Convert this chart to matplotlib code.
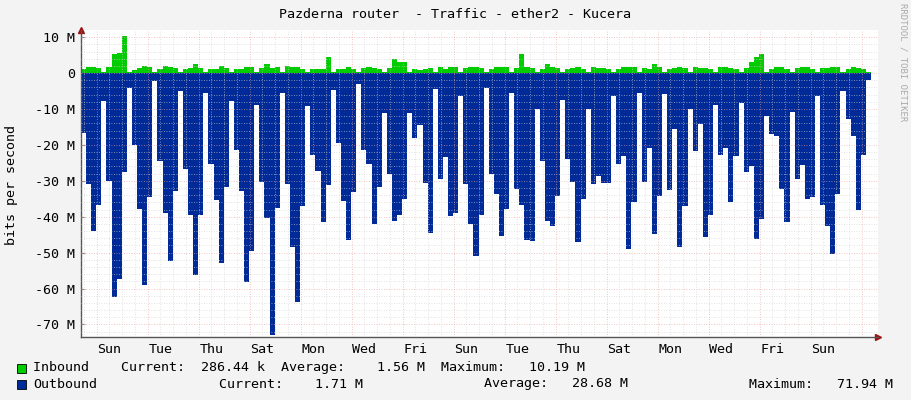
import numpy as np
import matplotlib.pyplot as plt
from matplotlib.ticker import MultipleLocator, FuncFormatter

# outbound traffic [Mbit/s], one value per step
outbound = [16.7, 31, 44, 36.8, 7.7, 30, 62.3, 57.4, 27.6, 4.2, 20, 37.8, 59, 34.5, 2.1,
            24.4, 39, 52.3, 32.9, 4.9, 26.6, 39.4, 56.2, 39.5, 5.6, 25.3, 35.3, 52.9, 31.8, 7.9,
            21.3, 32.9, 58.1, 49.5, 8.8, 30.4, 40.3, 73, 37.7, 5.6, 31, 48.4, 63.7, 36.9, 9.1,
            22.9, 27.3, 41.5, 31.3, 4.6, 19.4, 35.6, 46.5, 33,
            3.1, 21.3, 25.3, 41.9, 31.8, 11.1, 28, 41.2, 39.4, 35.2, 11.1, 18.2, 14.4, 30.7, 44.6,
            4.4, 29.4, 23.3, 39.8, 39, 6.5, 31, 42.1, 50.9, 39.5, 4.2, 28, 33.8, 45.4, 37.8,
            5.6, 32.2, 36.6, 46.6, 46.8, 9.9, 24.4, 41.2, 42.6, 34.1, 7.4, 23.9, 30.4, 47, 35,
            9.9, 31, 28.7, 30.6, 30.7, 6.5, 25.2, 23.1,
            48.9, 35.9, 5.6, 30.4, 21, 44.9, 34.1, 5.7, 32.6, 15.5, 48.4, 36.9, 9.9, 21.6, 14.2,
            45.7, 39.4, 8.8, 22.9, 21, 35.9, 23, 8.3, 27.6, 25.9, 46.1, 40.6, 11.9, 16.9, 17.4,
            32.2, 41.5, 10.8, 29.5, 25.7, 35, 34.5, 6.5, 36.6, 42.6, 50.3, 33.8, 4.9, 12.7, 17.6,
            38.1, 22.9, 1.9]

inbound = [1.2, 1.6, 1.8, 1.3, 0.4, 1.8, 5.4, 5.6, 10.4, 0.3, 0.8, 1.5, 2.1, 1.6, 0.3,
           1.2, 2.0, 1.8, 1.3, 0.3, 1.0, 1.5, 2.4, 1.5, 0.4, 1.0, 1.2, 2.0, 1.4, 0.4,
           1.0, 1.2, 1.8, 1.6, 0.4, 1.4, 2.4, 1.3, 1.8, 0.3, 2.0, 1.7, 1.8, 1.2, 0.4,
           1.2, 1.2, 1.2, 4.6, 0.3, 1.1, 1.2, 1.6, 1.2,
           0.4, 1.3, 1.6, 1.5, 1.1, 0.4, 1.3, 4.0, 3.2, 3.2, 0.4, 1.2, 0.8, 1.1, 1.4,
           0.4, 1.6, 1.0, 1.7, 1.7, 0.4, 1.5, 1.7, 1.7, 1.3, 0.3, 1.0, 1.7, 1.7, 1.6,
           0.4, 1.4, 5.4, 1.6, 1.5, 0.3, 1.2, 2.6, 1.6, 1.5, 0.4, 1.1, 1.3, 1.6, 1.2,
           0.4, 1.6, 1.4, 1.3, 1.2, 0.4, 1.0, 1.6,
           1.8, 1.6, 0.4, 1.3, 1.1, 2.6, 1.8, 0.4, 1.2, 1.3, 1.8, 1.3, 0.4, 1.7, 1.5,
           1.3, 1.0, 0.4, 1.6, 1.6, 1.5, 1.2, 0.4, 1.5, 3.2, 4.4, 5.3, 0.4, 1.2, 1.6,
           1.6, 1.2, 0.4, 1.5, 1.8, 1.6, 1.2, 0.4, 1.4, 1.5, 1.6, 1.8, 0.4, 1.2, 1.6,
           1.3, 1.2, 0.4]

days = ["Sun", "Tue", "Thu", "Sat", "Mon", "Wed", "Fri",
        "Sun", "Tue", "Thu", "Sat", "Mon", "Wed", "Fri", "Sun"]

legend_in = "Inbound    Current:  286.44 k  Average:    1.56 M  Maximum:   10.19 M"
legend_out = ["Outbound", "Current:    1.71 M", "Average:   28.68 M", "Maximum:   71.94 M"]

n = len(outbound)
x = np.arange(n + 1)
px = 797.0 / n            # pixels per step
def pix2idx(p):
    return (p - 81) / px

mono = "DejaVu Sans Mono"
fs = 9.6

fig = plt.figure(figsize=(9.11, 4.0), dpi=100, facecolor="#F3F3F3")
ax = fig.add_axes([81 / 911, 1 - 337 / 400, 797 / 911, 307 / 400])
ax.set_facecolor("white")

out_v = -np.array(outbound)
in_v = np.array(inbound)
ax.stairs(out_v, x, baseline=0, fill=True, color="#002A97", lw=0, zorder=2)
ax.stairs(in_v, x, baseline=0, fill=True, color="#00CC00", lw=0, zorder=2)

ax.set_xlim(pix2idx(81), pix2idx(885))
ax.set_ylim(-73.5, 12)

# grid
ax.yaxis.set_major_locator(MultipleLocator(10))
for v in np.arange(-72, 12, 2):
    c = "#E8A0A0" if v % 10 == 0 else "#D0D0D0"
    ax.axhline(v, color=c, lw=0.6, ls=(0, (1, 2)), alpha=0.8, zorder=3)
midnight0 = 96.7
dayw = 25.73
for k in range(-1, 32):
    p = midnight0 + k * dayw
    if 81 < p < 878:
        c = "#E8A0A0" if k % 2 == 0 else "#D0D0D0"
        ax.axvline(pix2idx(p), color=c, lw=0.6, ls=(0, (1, 2)), alpha=0.8, zorder=3)
    ph = p + dayw / 2
    if 81 < ph < 878:
        ax.axvline(pix2idx(ph), color="#D0D0D0", lw=0.6, ls=(0, (1, 2)), alpha=0.8, zorder=3)

ax.set_xticks([pix2idx(midnight0 + dayw / 2 + 2 * i * dayw) for i in range(len(days))])
ax.set_xticklabels(days, fontfamily=mono, fontsize=fs)
ax.yaxis.set_major_formatter(FuncFormatter(lambda v, p: "0" if v == 0 else "%d M" % v))
for lbl in ax.get_yticklabels():
    lbl.set_fontfamily(mono)
    lbl.set_fontsize(fs)
ax.tick_params(axis="both", which="both", length=0, pad=4)
ax.tick_params(axis="y", which="major", length=3, direction="in", color="#888888")

for s in ["top", "right"]:
    ax.spines[s].set_visible(False)
for s in ["left", "bottom"]:
    ax.spines[s].set_color("#555555")
    ax.spines[s].set_linewidth(1)
ax.plot(1, 0, ">", transform=ax.transAxes, color="#A01010", ms=4, clip_on=False)
ax.plot(0, 1, "^", transform=ax.transAxes, color="#A01010", ms=4, clip_on=False)

fig.text(455 / 911, 1 - 14 / 400, "Pazderna router  - Traffic - ether2 - Kucera",
         ha="center", va="center", fontfamily=mono, fontsize=fs)
fig.text(12 / 911, 1 - 185 / 400, "bits per second", rotation=90,
         ha="center", va="center", fontfamily=mono, fontsize=fs)
fig.text(903 / 911, 1 - 62 / 400, "RRDTOOL / TOBI OETIKER", rotation=270,
         ha="center", va="center", fontfamily=mono, fontsize=6.5, color="#AAAAAA")

for yy, col in [(368, "#00CC00"), (384, "#002A97")]:
    fig.patches.append(plt.Rectangle((17 / 911, 1 - (yy + 5) / 400), 9 / 911, 9 / 400,
                                     transform=fig.transFigure, facecolor=col,
                                     edgecolor="black", lw=0.6))
fig.text(33 / 911, 1 - 368 / 400, legend_in, ha="left", va="center",
         fontfamily=mono, fontsize=fs)
for xx, txt in zip([33, 219, 484, 749], legend_out):
    fig.text(xx / 911, 1 - 384 / 400, txt, ha="left", va="center",
             fontfamily=mono, fontsize=fs)

fig.savefig("out.png", dpi=100, facecolor=fig.get_facecolor())
